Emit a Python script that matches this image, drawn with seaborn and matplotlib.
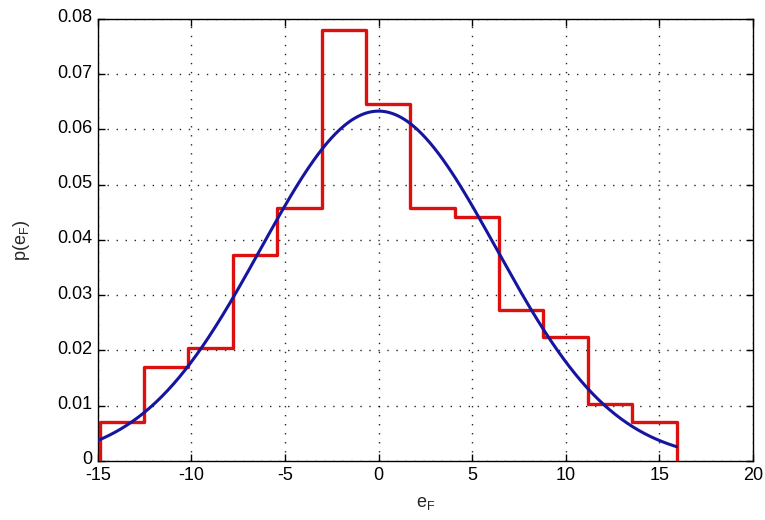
import numpy as np
import pandas as pd
import matplotlib
matplotlib.use("Agg")
import matplotlib.pyplot as plt
import matplotlib.transforms as mtransforms
import seaborn as sns

# Histogram of the error e_F: bin edges and normalised heights
bin_edges = [-14.9, -12.53, -10.16, -7.79, -5.42, -3.04, -0.67,
             1.70, 4.07, 6.44, 8.81, 11.18, 13.56, 15.93]
bin_heights = [0.0070, 0.0171, 0.0205, 0.0373, 0.0457, 0.0780, 0.0647,
               0.0457, 0.0442, 0.0274, 0.0224, 0.0103, 0.0070]

# Fitted normal density
fit_mean = 0.0
fit_sigma = 6.3
curve_start, curve_end = -15.0, 15.93

x_ticks = [-15, -10, -5, 0, 5, 10, 15, 20]
y_ticks = [0, 0.01, 0.02, 0.03, 0.04, 0.05, 0.06, 0.07, 0.08]
y_ticklabels = ["0", "0.01", "0.02", "0.03", "0.04", "0.05", "0.06", "0.07", "0.08"]

red = "#dd1010"
blue = "#1515a0"

sns.set_style("ticks")
plt.rcParams["font.family"] = ["Liberation Sans", "DejaVu Sans"]
plt.rcParams["mathtext.fontset"] = "custom"
plt.rcParams["mathtext.rm"] = "Liberation Sans"
plt.rcParams["mathtext.it"] = "Liberation Sans"

fig = plt.figure(figsize=(7.65, 5.2), dpi=100)
ax = fig.add_axes([0.128, 0.1135, 0.856, 0.85])

centers = [(a + b) / 2 for a, b in zip(bin_edges[:-1], bin_edges[1:])]
hist_df = pd.DataFrame({"e": centers, "p": bin_heights})
sns.histplot(data=hist_df, x="e", weights="p", bins=bin_edges, element="step",
             fill=False, color=red, linewidth=2.4, ax=ax, zorder=3)
# close the outline down to zero at both ends
ax.vlines([bin_edges[0], bin_edges[-1]], 0, [bin_heights[0], bin_heights[-1]],
          colors=red, linewidth=2.4, zorder=3)

xs = np.linspace(curve_start, curve_end, 400)
pdf = np.exp(-0.5 * ((xs - fit_mean) / fit_sigma) ** 2) / (fit_sigma * np.sqrt(2 * np.pi))
sns.lineplot(x=xs, y=pdf, color=blue, linewidth=2.2, ax=ax, zorder=4)

ax.set_xlim(-15, 20)
ax.set_ylim(0, 0.08)
ax.set_xticks(x_ticks)
ax.set_xticklabels([str(t) for t in x_ticks])
ax.set_yticks(y_ticks)
ax.set_yticklabels(y_ticklabels)

ax.grid(True, color="black", linestyle=(0, (1, 5.5)), linewidth=1.0, alpha=0.85)
ax.set_axisbelow(True)
for s in ax.spines.values():
    s.set_visible(True)
    s.set_color("black")
    s.set_linewidth(1.0)
ax.tick_params(direction="in", length=5, width=1, top=True, right=True,
               labelsize=13, colors="black")
ax.tick_params(axis="x", pad=4)
ax.tick_params(axis="y", pad=4)

# nudge the y tick labels up a little
shift_up = mtransforms.ScaledTranslation(0, 3 / 100, fig.dpi_scale_trans)
for lab in ax.get_yticklabels():
    lab.set_transform(lab.get_transform() + shift_up)

ax.set_xlabel(r"e$_\mathregular{F}$", fontsize=13, labelpad=8)
ax.set_ylabel(r"p(e$_\mathregular{F}$)", fontsize=13, labelpad=18)

fig.savefig("out.png", dpi=100, facecolor="white")
